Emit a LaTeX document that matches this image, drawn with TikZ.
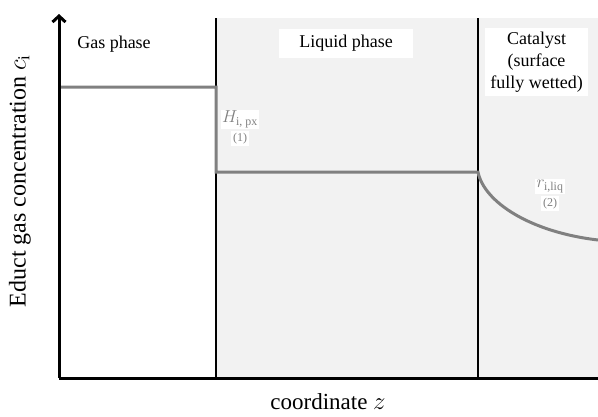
\documentclass[tikz,border=0pt]{standalone}
\usepackage{amsmath}
\usepackage{fontspec}
\setmainfont{Liberation Serif}
\usepackage{xcolor}
\usetikzlibrary{arrows.meta,positioning}
\definecolor{liqgray}{HTML}{F2F2F2}
\definecolor{profile}{HTML}{808080}

\begin{document}
\begin{tikzpicture}[x=1pt,y=-1pt,
                          axis/.style={line width=3pt, black},
                          border/.style={line width=1.3pt, black},
                          conc/.style={line width=3pt, profile},
                          phase/.style={fill=white, inner sep=4pt, font=\fontsize{18}{22}\selectfont, align=center},
                          param/.style={fill=white, inner sep=1.5pt, text=profile, font=\fontsize{17}{19}\selectfont},
                          eqno/.style={fill=white, inner sep=2pt, text=profile, font=\fontsize{12}{14}\selectfont},
                         ]

\useasboundingbox (0,0) rectangle (598,416);

\coordinate (O) at (59,378);
\coordinate (top) at (59,14);
\coordinate (right) at (598,378);

\fill[liqgray] (216,18) rectangle (598,378);

\draw[border] (216,18) -- (216,378);
\draw[border] (478,18) -- (478,378);

\node[phase, fill=none] (gas) at (114,44) {Gas phase};
\node[phase, minimum width=134pt, minimum height=29pt] (liquid) at (346,43.5) {Liquid phase};
\node[phase, minimum width=103pt, minimum height=66pt] (cat) at (536.5,62) {Catalyst\\(surface\\fully wetted)};

% concentration profile
\coordinate (c0) at (59,87);
\coordinate (c1) at (216,87);
\coordinate (c2) at (216,172);
\coordinate (c3) at (478,172);
\coordinate (c4) at (598,240);
\draw[conc, line join=miter] (c0) -- (c1) -- (c2) -- (c3) .. controls (484,202) and (530,232) .. (c4);

\node[param] (henry) at (240,119.5) {$H_{\text{i, px}}$};
\node[eqno, below=1pt of henry] (eq1) {(1)};
\node[param] (rate) at (550,186.5) {$r_{\text{i,liq}}$};
\node[eqno, below=1pt of rate] (eq2) {(2)};

\draw[axis, -{Straight Barb[length=6pt, width=13pt]}] (O) -- (top);
\draw[axis] (O) -- (right);

\node[font=\fontsize{23}{26}\selectfont] (xlabel) at (328,402) {coordinate $z$};
\node[font=\fontsize{24}{27}\selectfont, rotate=90] (ylabel) at (20,181) {Educt gas concentration $c_{\text{i}}$};

\end{tikzpicture}
\end{document}
